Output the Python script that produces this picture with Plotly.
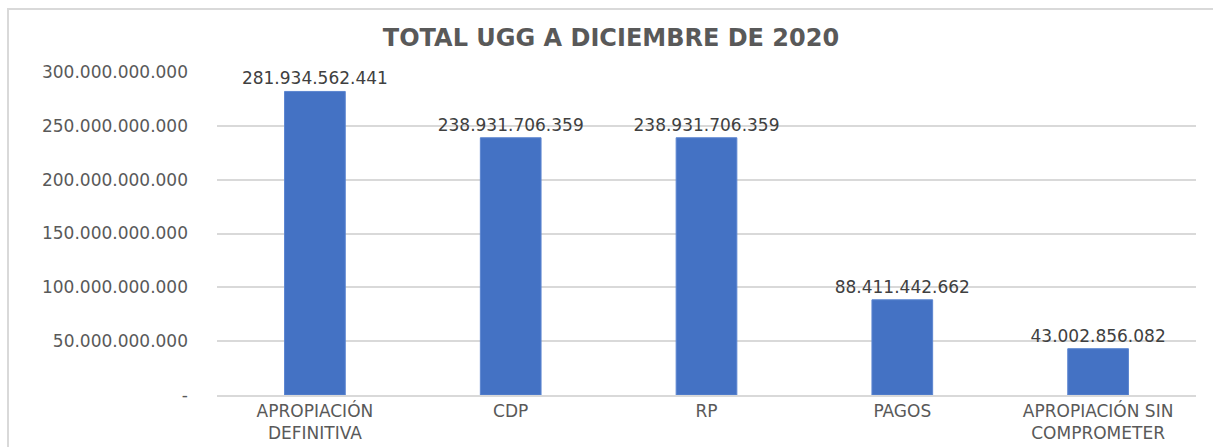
import plotly.graph_objects as go

categories = ["APROPIACIÓN<br>DEFINITIVA", "CDP", "RP", "PAGOS", "APROPIACIÓN SIN<br>COMPROMETER"]
values = [281934562441, 238931706359, 238931706359, 88411442662, 43002856082]
tick_vals = [0, 50e9, 100e9, 150e9, 200e9, 250e9, 300e9]
tick_text = ["-", "50.000.000.000", "100.000.000.000", "150.000.000.000",
             "200.000.000.000", "250.000.000.000", "300.000.000.000"]
title_text = "TOTAL UGG A DICIEMBRE DE 2020"

labels = [f"{v:,}".replace(",", ".") for v in values]

W, H = 1213, 447
L, R, T, B = 217, 17, 72, 52
pw, ph = W - L - R, H - T - B

fig = go.Figure(go.Bar(
    x=categories, y=values, text=labels, textposition="outside",
    cliponaxis=False, constraintext="none",
    textfont=dict(family="DejaVu Sans", size=17, color="#404040"),
    marker=dict(color="#4472C4", line=dict(color="#5B85D0", width=1)),
    width=0.31,
))

fig.update_layout(
    width=W, height=H,
    margin=dict(l=L, r=R, t=T, b=B, autoexpand=False),
    paper_bgcolor="white", plot_bgcolor="white",
    showlegend=False,
    title=dict(text=f"<b>{title_text}</b>", x=611 / W, xanchor="center",
               y=1 - 38 / H, yanchor="middle", xref="container", yref="container",
               font=dict(family="DejaVu Sans", size=24, color="#595959")),
    font=dict(family="DejaVu Sans", color="#595959"),
)
fig.update_yaxes(range=[0, 300e9], tickvals=tick_vals, ticktext=tick_text,
                 showgrid=True, gridcolor="#D9D9D9", gridwidth=1.5,
                 zeroline=False, showline=False, ticks="", automargin=False,
                 ticklabelstandoff=28,
                 tickfont=dict(family="DejaVu Sans", size=17, color="#595959"))
fig.update_xaxes(showline=True, linecolor="#D9D9D9", linewidth=1.5, ticks="",
                 automargin=False,
                 tickfont=dict(family="DejaVu Sans", size=17, color="#595959"))

# outer chart border
fig.add_shape(type="rect", xref="paper", yref="paper",
              x0=(8 - L) / pw, x1=(W + 5 - L) / pw,
              y0=-(H + 5 - T - ph) / ph, y1=(T + ph - 9) / ph,
              line=dict(color="#D9D9D9", width=2), layer="below")

fig.write_html("out.html")
